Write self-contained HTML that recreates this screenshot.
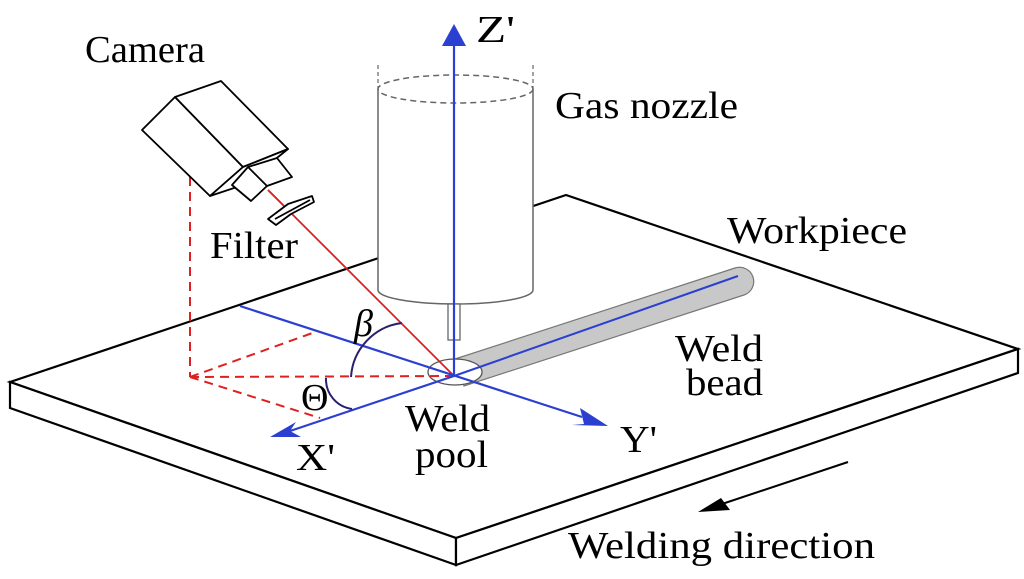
<!DOCTYPE html>
<html><head><meta charset="utf-8"><style>
html,body{margin:0;padding:0;background:#fff}
svg{display:block}
text{font-family:"Liberation Serif",serif;font-size:38px;fill:#000}
</style></head><body>
<svg width="1024" height="579" viewBox="0 0 1024 579" xmlns="http://www.w3.org/2000/svg">
<g stroke="#000" stroke-width="2.2" fill="#fff" stroke-linejoin="miter">
<polygon points="10,382 566,195 1018,349 456,538"/>
<polygon points="10,382 456,538 456,565 10,408"/>
<polygon points="456,538 1018,349 1018,373 456,565"/>
</g>
<path d="M455,359 L735,268 A14,14 0 0 1 744,295 L464,386 Z" fill="#c8c8c8" stroke="#777" stroke-width="1.2"/>
<ellipse cx="455" cy="372" rx="27" ry="13" fill="#fff" stroke="#555" stroke-width="1.3"/>
<line x1="454" y1="376" x2="738" y2="276" stroke="#2b3fd0" stroke-width="2"/>
<path d="M378,89 L378,290 A77.5,14 0 0 0 533,290 L533,89" fill="#fff" stroke="#666" stroke-width="1.5"/>
<ellipse cx="455.5" cy="89" rx="77.5" ry="14" fill="none" stroke="#666" stroke-width="1.5" stroke-dasharray="6,4"/>
<line x1="378" y1="65" x2="378" y2="89" stroke="#666" stroke-width="1.2" stroke-dasharray="4,3"/>
<line x1="533" y1="65" x2="533" y2="89" stroke="#666" stroke-width="1.2" stroke-dasharray="4,3"/>
<rect x="448" y="304" width="12" height="36" fill="#fff" stroke="#666" stroke-width="1.3"/>
<line x1="454" y1="376" x2="268" y2="190" stroke="#e02020" stroke-width="1.8"/>
<g stroke="#e02020" stroke-width="2" stroke-dasharray="9,6" fill="none">
<line x1="190" y1="177" x2="190" y2="377"/>
<line x1="190" y1="377" x2="454" y2="376"/>
<line x1="190" y1="377" x2="318" y2="331"/>
<line x1="190" y1="377" x2="320" y2="418"/>
</g>
<g stroke="#2b3fd0" stroke-width="2.2" fill="none">
<line x1="454" y1="376" x2="454" y2="44"/>
<line x1="240" y1="306" x2="582" y2="417"/>
<line x1="454" y1="376" x2="290" y2="431"/>
</g>
<polygon points="454,24 442,46 466,46" fill="#2b3fd0"/>
<polygon points="608,426 580,408 584,424 572,425" fill="#2b3fd0"/>
<polygon points="270,437 296,422 290,431 301,437" fill="#2b3fd0"/>
<path d="M351,377 A58,58 0 0 1 402,323" fill="none" stroke="#2a1f70" stroke-width="2"/>
<path d="M326,378 A30,30 0 0 0 352,409" fill="none" stroke="#2a1f70" stroke-width="2"/>
<g stroke="#000" stroke-width="1.8" fill="#fff" stroke-linejoin="round">
<polygon points="142,130 175,97 243,167 210,196"/>
<polygon points="175,97 221,81 288,149 243,167"/>
<polygon points="210,196 243,167 288,149 262,170 240,186"/>
<polygon points="232,185 248,167 277,158 292,177 267,186 251,201"/>
<line x1="248" y1="167" x2="267" y2="186"/>
<polygon points="268,219 288,204 312,196 314,202 291,214 276,225"/>
<line x1="275" y1="219" x2="310" y2="200"/>
</g>
<line x1="268" y1="190" x2="284" y2="206" stroke="#e02020" stroke-width="1.8"/>
<line x1="848" y1="462" x2="716" y2="506" stroke="#000" stroke-width="2"/>
<polygon points="698,512 721,498 730,510" fill="#000"/>
<text x="85" y="62" textLength="120" lengthAdjust="spacingAndGlyphs">Camera</text>
<text x="476" y="42" textLength="39" lengthAdjust="spacingAndGlyphs">Z'</text>
<text x="555" y="118" textLength="183" lengthAdjust="spacingAndGlyphs">Gas nozzle</text>
<text x="210" y="258" textLength="88" lengthAdjust="spacingAndGlyphs">Filter</text>
<text x="727" y="243" textLength="180" lengthAdjust="spacingAndGlyphs">Workpiece</text>
<text x="354" y="336" font-style="italic">β</text>
<text x="675" y="361" textLength="88" lengthAdjust="spacingAndGlyphs">Weld</text>
<text x="686" y="395" textLength="77" lengthAdjust="spacingAndGlyphs">bead</text>
<text x="301" y="410" font-size="32">Θ</text>
<text x="405" y="431" textLength="85" lengthAdjust="spacingAndGlyphs">Weld</text>
<text x="415" y="467" textLength="73" lengthAdjust="spacingAndGlyphs">pool</text>
<text x="296" y="470" textLength="39" lengthAdjust="spacingAndGlyphs">X'</text>
<text x="620" y="452" textLength="37" lengthAdjust="spacingAndGlyphs">Y'</text>
<text x="568" y="558" textLength="307" lengthAdjust="spacingAndGlyphs">Welding direction</text>
</svg>
</body></html>
